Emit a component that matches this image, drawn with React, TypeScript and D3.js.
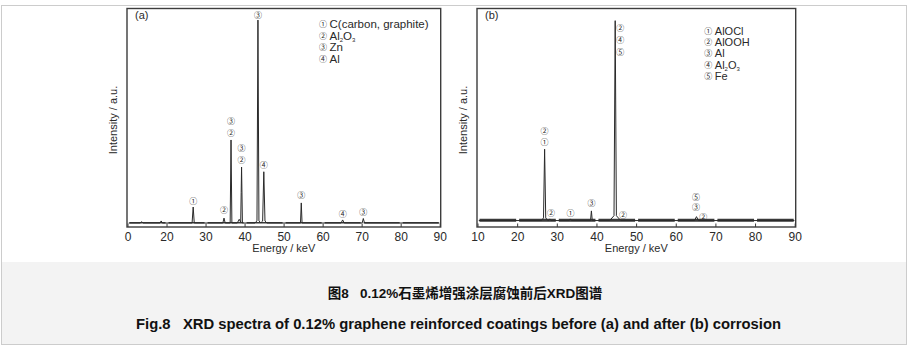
import React from 'react';
import * as d3 from 'd3';

// ---------- data ----------
const xTicks = [10, 20, 30, 40, 50, 60, 70, 80, 90];
const xTickLabelsA = ['0', '20', '30', '40', '50', '60', '70', '80', '90'];
const xTickLabelsB = ['10', '20', '30', '40', '50', '60', '70', '80', '90'];

// peaks: energy (keV), height (a.u.), half base width (keV)
const peaksA = [
  { e: 13.5, h: 0.6, w: 0.4 },
  { e: 18.5, h: 1.0, w: 0.3 },
  { e: 26.7, h: 7.8, w: 0.28 },
  { e: 34.6, h: 2.4, w: 0.3 },
  { e: 36.4, h: 40.5, w: 0.22 },
  { e: 38.5, h: 1.8, w: 0.5 },
  { e: 39.1, h: 27.3, w: 0.22 },
  { e: 43.3, h: 97.5, w: 0.25 },
  { e: 43.3, h: 1.5, w: 0.8 },
  { e: 44.8, h: 23.5, w: 0.3 },
  { e: 44.8, h: 1.5, w: 0.8 },
  { e: 54.4, h: 9.8, w: 0.2 },
  { e: 65.0, h: 1.5, w: 0.4 },
  { e: 70.3, h: 2.2, w: 0.3 },
];
const baseA = 0;

const peaksB = [
  { e: 26.8, h: 32.8, w: 0.28 },
  { e: 26.8, h: 2.0, w: 0.8 },
  { e: 28.1, h: 0.8, w: 0.3 },
  { e: 33.3, h: 0.8, w: 0.3 },
  { e: 38.6, h: 4.7, w: 0.22 },
  { e: 44.6, h: 94.5, w: 0.3 },
  { e: 44.6, h: 3.0, w: 1.4 },
  { e: 65.1, h: 1.9, w: 0.5 },
];
const baseB = 1.2;

// peak annotations: energy, intensity (label centre), symbol
const labelsA = [
  { e: 26.7, i: 10.7, s: '①' },
  { e: 34.6, i: 6.3, s: '②' },
  { e: 36.4, i: 43.9, s: '②' },
  { e: 36.4, i: 49.8, s: '③' },
  { e: 39.1, i: 30.7, s: '②' },
  { e: 39.1, i: 36.6, s: '③' },
  { e: 43.3, i: 101.5, s: '③' },
  { e: 44.8, i: 28.3, s: '④' },
  { e: 54.4, i: 13.7, s: '③' },
  { e: 65.0, i: 4.4, s: '④' },
  { e: 70.3, i: 5.4, s: '③' },
];
const labelsB = [
  { e: 26.8, i: 44.9, s: '②' },
  { e: 26.8, i: 39.5, s: '①' },
  { e: 28.4, i: 4.9, s: '②' },
  { e: 33.3, i: 4.9, s: '①' },
  { e: 38.6, i: 9.8, s: '③' },
  { e: 45.9, i: 95.1, s: '②' },
  { e: 45.9, i: 89.3, s: '④' },
  { e: 45.9, i: 83.4, s: '⑤' },
  { e: 46.6, i: 3.9, s: '②' },
  { e: 65.0, i: 12.8, s: '⑤' },
  { e: 65.0, i: 7.7, s: '③' },
  { e: 66.8, i: 3.1, s: '②' },
];

const legendSymbolsA = ['①', '②', '③', '④'];
const legendNamesA = ['C(carbon, graphite)', 'Al2O3', 'Zn', 'Al'];
const legendSymbolsB = ['①', '②', '③', '④', '⑤'];
const legendNamesB = ['AlOCl', 'AlOOH', 'Al', 'Al2O3', 'Fe'];

const captionCN = '图8   0.12%石墨烯增强涂层腐蚀前后XRD图谱';
const captionEN = 'Fig.8   XRD spectra of 0.12% graphene reinforced coatings before (a) and after (b) corrosion';

// ---------- rendering ----------
const FONT = 'Arial, "Liberation Sans", Helvetica, sans-serif';
const SYMFONT = '"Noto Sans CJK SC", "DejaVu Sans", sans-serif';
const INK = '#2a2a2a';

type Peak = { e: number; h: number; w: number };
type Label = { e: number; i: number; s: string };

function Formula({ text }: { text: string }) {
  const parts = text.split(/(\d+)/).filter((p) => p.length > 0);
  return (
    <>
      {parts.map((p, k) =>
        /^\d+$/.test(p) ? (
          <tspan key={k} fontSize={6} dy={2}>
            {p}
          </tspan>
        ) : (
          <tspan key={k} dy={k > 0 && /^\d+$/.test(parts[k - 1]) ? -2 : 0}>
            {p}
          </tspan>
        )
      )}
    </>
  );
}

function Panel(props: {
  x0: number;
  x1: number;
  y0: number;
  y1: number;
  peaks: Peak[];
  base: number;
  labels: Label[];
  tickLabels: string[];
  panelLabel: string;
  legendSyms: string[];
  legendNames: string[];
  legendX: number;
  legendY: number;
  legendStep: number;
  legendFont: number;
  bandWidth: number;
}) {
  const { x0, x1, y0, y1, peaks, base, labels, tickLabels } = props;
  const x = d3.scaleLinear().domain([10, 90]).range([x0 + 1, x1 - 0.5]);
  const y = d3.scaleLinear().domain([0, 100]).range([223, 18]);

  const bps = new Set<number>([10.2, 89.8]);
  peaks.forEach((p) => {
    bps.add(p.e - p.w);
    bps.add(p.e);
    bps.add(p.e + p.w);
  });
  const xs = Array.from(bps).sort((a, b) => a - b);
  const pts: [number, number][] = xs.map((v) => {
    let s = base;
    peaks.forEach((p) => {
      s += p.h * Math.max(0, 1 - Math.abs(v - p.e) / p.w);
    });
    return [v, s];
  });
  const line = d3
    .line<[number, number]>()
    .x((d) => x(d[0]))
    .y((d) => y(d[1]));

  const segs = xTicks.slice(0, -1).map((t, k) => [t, xTicks[k + 1]]);

  return (
    <g>
      {/* baseline noise band, broken at the ticks */}
      {segs.map(([a, b], k) => (
        <line
          key={k}
          x1={x(a) + 1.5}
          x2={x(b) - 1.5}
          y1={y(base) - 0.3}
          y2={y(base) - 0.3}
          stroke="#3a3a3a"
          strokeWidth={props.bandWidth}
        />
      ))}
      <path d={line(pts) || ''} fill="none" stroke={INK} strokeWidth={1} />
      {/* frame */}
      <rect x={x0} y={y0} width={x1 - x0} height={y1 - y0} fill="none" stroke="#3c3c3c" strokeWidth={1.4} />
      {/* ticks */}
      {xTicks.map((t, k) => (
        <g key={t}>
          <line x1={x(t)} x2={x(t)} y1={y1} y2={y1 - 3.5} stroke="#3c3c3c" strokeWidth={1} />
          <text x={x(t)} y={240.5} textAnchor="middle" fontSize={12} fontFamily={FONT} fill={INK}>
            {tickLabels[k]}
          </text>
        </g>
      ))}
      <text x={(x0 + x1) / 2} y={252} textAnchor="middle" fontSize={11} fontFamily={FONT} fill={INK}>
        Energy / keV
      </text>
      <text
        transform={`translate(${x0 - 10.5},120) rotate(-90)`}
        textAnchor="middle"
        fontSize={11}
        fontFamily={FONT}
        fill={INK}
      >
        Intensity / a.u.
      </text>
      <text x={x0 + 8} y={19} fontSize={11} fontFamily={FONT} fill={INK}>
        {props.panelLabel}
      </text>
      {/* peak labels */}
      {labels.map((l, k) => (
        <text
          key={k}
          x={x(l.e)}
          y={y(l.i) + 3}
          textAnchor="middle"
          fontSize={8}
          fontFamily={SYMFONT}
          fill={INK}
        >
          {l.s}
        </text>
      ))}
      {/* legend */}
      {props.legendSyms.map((s, k) => (
        <g key={k}>
          <text
            x={props.legendX}
            y={props.legendY + k * props.legendStep + 3}
            textAnchor="middle"
            fontSize={8}
            fontFamily={SYMFONT}
            fill={INK}
          >
            {s}
          </text>
          <text
            x={props.legendX + 6.5}
            y={props.legendY + k * props.legendStep + 4}
            fontSize={props.legendFont}
            fontFamily={FONT}
            fill={INK}
          >
            <Formula text={props.legendNames[k]} />
          </text>
        </g>
      ))}
    </g>
  );
}

export default function App() {
  return (
    <svg
      width={914}
      height={355}
      style={{ position: 'absolute', left: 0, top: 0, background: '#fff' }}
    >
      <rect x={1.5} y={5.5} width={905} height={339} fill="#fff" stroke="#cccccc" strokeWidth={1} />
      <rect x={2} y={262} width={904} height={82} fill="#f3f3f3" />
      <Panel
        x0={127}
        x1={440.7}
        y0={8.5}
        y1={227}
        peaks={peaksA}
        base={baseA}
        labels={labelsA}
        tickLabels={xTickLabelsA}
        panelLabel="(a)"
        legendSyms={legendSymbolsA}
        legendNames={legendNamesA}
        legendX={323}
        legendY={24}
        legendStep={11.6}
        legendFont={11.5}
        bandWidth={1.4}
      />
      <Panel
        x0={477}
        x1={795.7}
        y0={8.5}
        y1={227}
        peaks={peaksB}
        base={baseB}
        labels={labelsB}
        tickLabels={xTickLabelsB}
        panelLabel="(b)"
        legendSyms={legendSymbolsB}
        legendNames={legendNamesB}
        legendX={708.3}
        legendY={31}
        legendStep={11.2}
        legendFont={11}
        bandWidth={3}
      />
      <text
        x={465}
        y={298}
        textAnchor="middle"
        fontSize={13.5}
        fontWeight="bold"
        fontFamily={'Arial, "Liberation Sans", "Noto Sans CJK SC", sans-serif'}
        fill="#111"
        style={{ whiteSpace: 'pre' }}
      >
        {captionCN}
      </text>
      <text
        x={458.5}
        y={328.5}
        textAnchor="middle"
        fontSize={15}
        fontWeight="bold"
        fontFamily={'Arial, "Liberation Sans", sans-serif'}
        fill="#111"
        textLength={645}
        lengthAdjust="spacingAndGlyphs"
        style={{ whiteSpace: 'pre' }}
      >
        {captionEN}
      </text>
    </svg>
  );
}
